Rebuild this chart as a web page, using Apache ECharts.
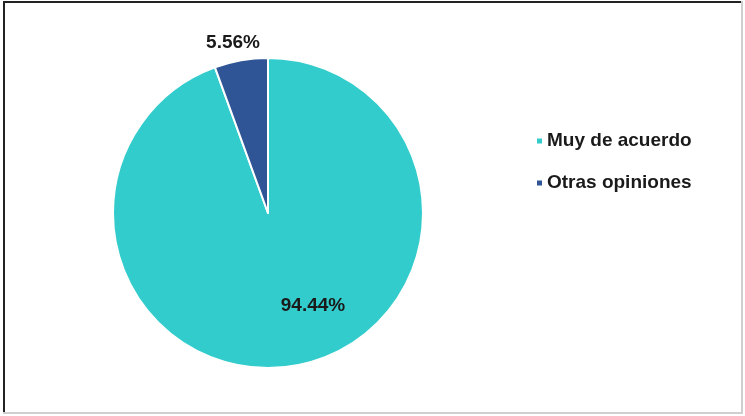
<!DOCTYPE html>
<html>
<head>
<meta charset="utf-8">
<script src="https://cdn.jsdelivr.net/npm/echarts@6/dist/echarts.min.js"></script>
<style>
  html, body { margin: 0; padding: 0; background: #fff; }
  #chart { width: 745px; height: 416px; }
</style>
</head>
<body>
<div id="chart"></div>
<script>
// Survey answers and their shares (%)
const categories = ['Muy de acuerdo', 'Otras opiniones'];
const shares = [94.44, 5.56];
const sliceColors = ['#33CCCC', '#2F5597'];
// Per-slice label nudges from the default inside position
const labelOffsets = [[31, 13], [-21, -91]];

const chart = echarts.init(document.getElementById('chart'), null, { renderer: 'canvas' });

const pieData = categories.map((name, i) => ({
  name: name,
  value: shares[i],
  itemStyle: { color: sliceColors[i] },
  label: { offset: labelOffsets[i] }
}));

chart.setOption({
  backgroundColor: '#ffffff',
  animation: false,
  legend: {
    orient: 'vertical',
    left: 535,
    top: 131,
    padding: 0,
    itemWidth: 7,
    itemHeight: 7,
    itemGap: 22,
    icon: 'rect',
    textStyle: {
      fontFamily: 'Liberation Sans, Arial, sans-serif',
      fontWeight: 'bold',
      fontSize: 19,
      lineHeight: 20,
      color: '#1a1a1a',
      padding: [0, 0, 0, -1]
    },
    data: categories
  },
  series: [{
    type: 'pie',
    center: [268, 213],
    radius: 155,
    startAngle: 90,
    clockwise: true,
    avoidLabelOverlap: false,
    itemStyle: { borderColor: '#ffffff', borderWidth: 2 },
    label: {
      show: true,
      position: 'inside',
      formatter: p => p.value.toFixed(2) + '%',
      fontFamily: 'Liberation Sans, Arial, sans-serif',
      fontWeight: 'bold',
      fontSize: 19,
      color: '#1a1a1a'
    },
    labelLine: { show: false },
    emphasis: { disabled: true },
    data: pieData
  }],
  graphic: [
    { type: 'rect', shape: { x: 3, y: 1, width: 2, height: 412 }, style: { fill: '#222222' }, silent: true },
    { type: 'rect', shape: { x: 3, y: 1, width: 740, height: 2 }, style: { fill: '#222222' }, silent: true },
    { type: 'rect', shape: { x: 741, y: 1, width: 2, height: 413 }, style: { fill: '#cfcfcf' }, silent: true },
    { type: 'rect', shape: { x: 3, y: 412, width: 740, height: 2 }, style: { fill: '#cfcfcf' }, silent: true }
  ]
});
</script>
</body>
</html>
